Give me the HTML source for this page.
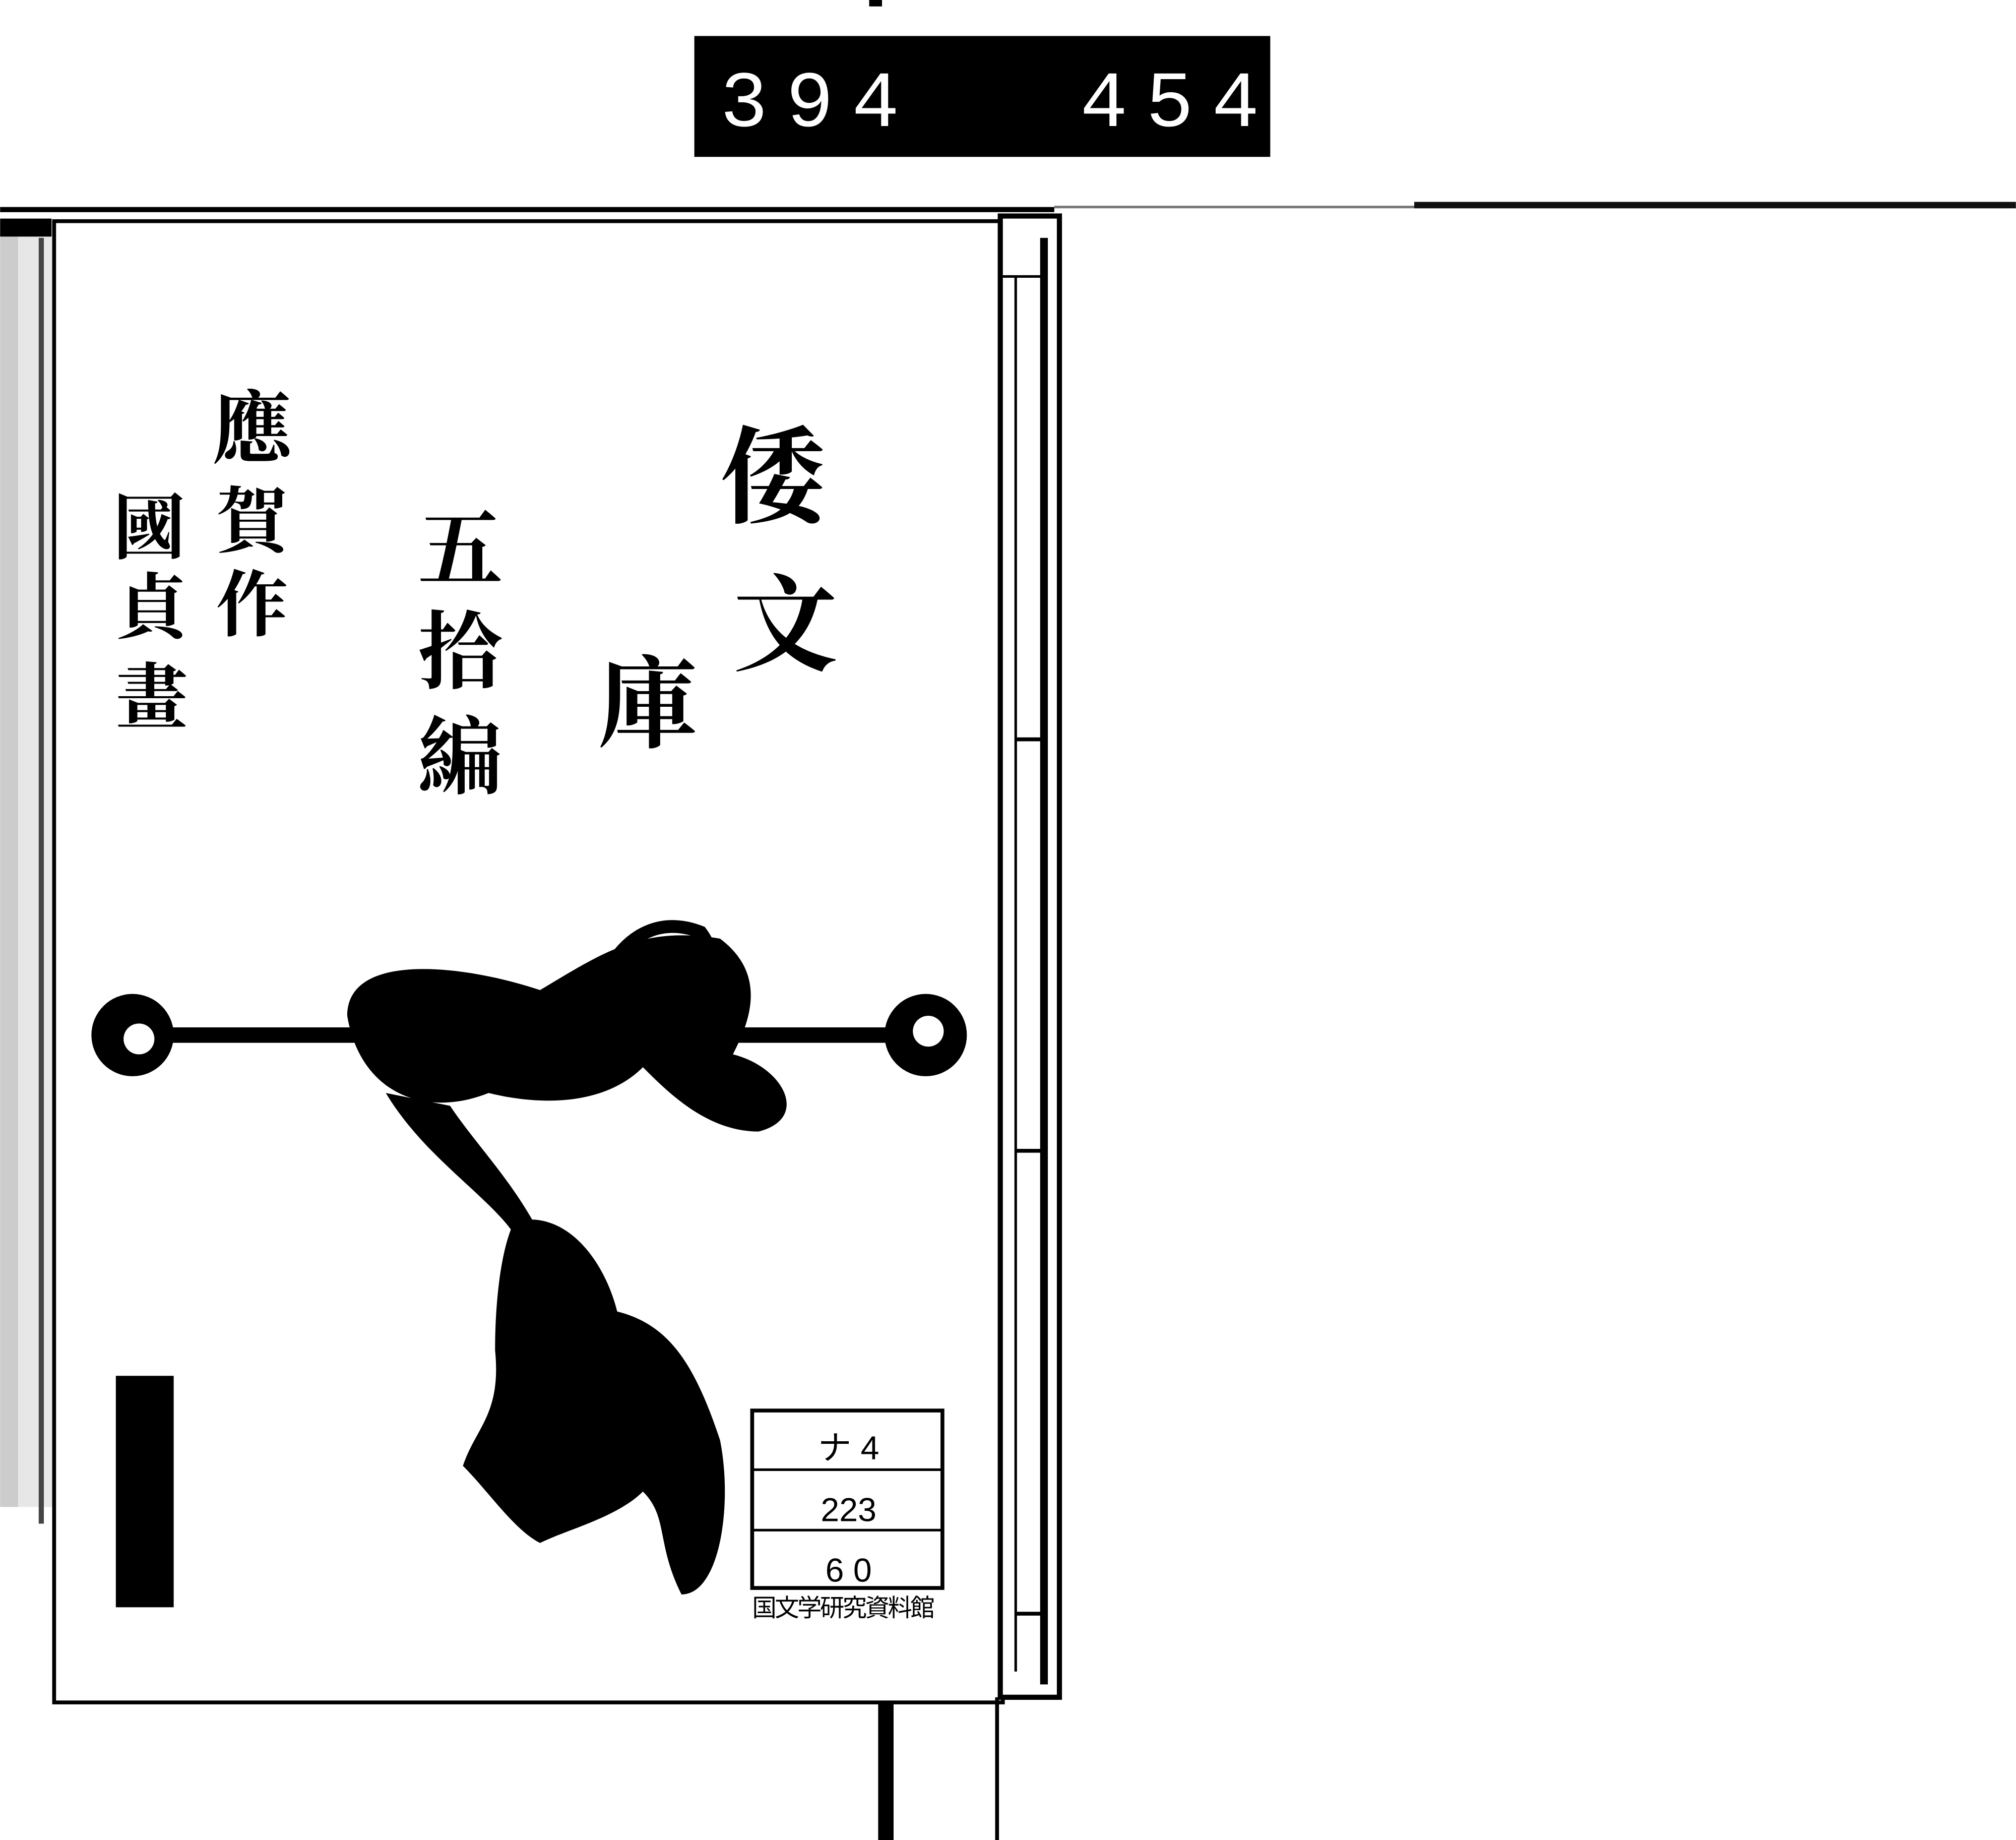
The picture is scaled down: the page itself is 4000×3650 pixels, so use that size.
<!DOCTYPE html>
<html><head><meta charset="utf-8"><style>
html,body{margin:0;padding:0;background:#fff;}
svg{display:block;}
.cjk{font-family:"Liberation Serif","Noto Serif CJK SC","Noto Sans CJK JP",serif;fill:#000;font-weight:bold;}
</style></head><body>
<svg width="4000" height="3650" viewBox="0 0 1568 1431" xmlns="http://www.w3.org/2000/svg">
<rect width="1568" height="1431" fill="#fff"/>
<rect x="540" y="28" width="448" height="94" fill="#000"/>
<text x="560" y="98" font-family="Liberation Mono,monospace" font-size="62" fill="#fff" letter-spacing="14">394</text>
<text x="840" y="98" font-family="Liberation Mono,monospace" font-size="62" fill="#fff" letter-spacing="14">454.</text>
<rect x="676" y="0" width="10" height="5" fill="#000"/>
<rect x="0" y="161" width="820" height="4" fill="#000"/>
<rect x="820" y="160" width="748" height="2" fill="#777"/>
<rect x="1100" y="157" width="468" height="5" fill="#111"/>
<rect x="0" y="172" width="42" height="1000" fill="#ddd" opacity="0.7"/>
<rect x="0" y="172" width="14" height="1000" fill="#bbb" opacity="0.6"/>
<rect x="30" y="185" width="4" height="1000" fill="#444"/>
<rect x="42" y="172" width="738" height="1152" fill="none" stroke="#000" stroke-width="3"/>
<rect x="0" y="170" width="40" height="14" fill="#000"/>
<rect x="778" y="168" width="46" height="1152" fill="#fff" stroke="#000" stroke-width="4"/>
<line x1="790" y1="215" x2="790" y2="1300" stroke="#000" stroke-width="2"/>
<line x1="812" y1="185" x2="812" y2="1310" stroke="#000" stroke-width="6"/>
<line x1="780" y1="215" x2="812" y2="215" stroke="#000" stroke-width="2"/>
<line x1="790" y1="575" x2="812" y2="575" stroke="#000" stroke-width="3"/>
<line x1="790" y1="895" x2="812" y2="895" stroke="#000" stroke-width="3"/>
<line x1="790" y1="1255" x2="812" y2="1255" stroke="#000" stroke-width="3"/>
<text class="cjk" x="560" y="400" font-size="82">倭</text>
<text class="cjk" x="570" y="515" font-size="82">文</text>
<text class="cjk" x="465" y="575" font-size="78">庫</text>
<text class="cjk" x="325" y="450" font-size="66">五</text>
<text class="cjk" x="325" y="530" font-size="66">拾</text>
<text class="cjk" x="325" y="612" font-size="66">編</text>
<text class="cjk" x="165" y="355" font-size="62">應</text>
<text class="cjk" x="168" y="425" font-size="56">賀</text>
<text class="cjk" x="168" y="490" font-size="56">作</text>
<text class="cjk" x="88" y="430" font-size="56">國</text>
<text class="cjk" x="90" y="492" font-size="56">貞</text>
<text class="cjk" x="90" y="562" font-size="56">畫</text>
<rect x="100" y="799" width="630" height="12" fill="#000"/>
<circle cx="103" cy="805" r="32" fill="#000"/><circle cx="108" cy="808" r="12" fill="#fff"/>
<circle cx="720" cy="805" r="32" fill="#000"/><circle cx="722" cy="802" r="12" fill="#fff"/>
<path d="M270,790 C270,740 360,750 420,770 C470,740 500,720 560,730 C600,760 580,800 570,820 C610,830 630,870 590,880 C550,880 520,850 500,830 C470,860 420,860 380,850 C330,870 280,850 270,790 Z" fill="#000"/>
<path d="M470,760 C490,720 520,715 545,725 C560,745 555,770 540,790" fill="none" stroke="#000" stroke-width="10"/>
<path d="M300,850 C330,900 380,930 400,960 L420,960 C400,920 370,890 350,860 Z" fill="#000"/>
<path d="M400,950 C440,940 470,980 480,1020 C520,1030 540,1060 560,1120 C570,1170 560,1240 530,1240 C510,1200 520,1180 500,1160 C480,1180 440,1190 420,1200 C400,1190 380,1160 360,1140 C370,1110 390,1100 385,1050 C385,1010 390,970 400,950 Z" fill="#000"/>
<rect x="90" y="1070" width="45" height="180" fill="#000"/>
<rect x="585" y="1097" width="148" height="138" fill="#fff" stroke="#000" stroke-width="3"/>
<line x1="585" y1="1143" x2="733" y2="1143" stroke="#000" stroke-width="2"/>
<line x1="585" y1="1190" x2="733" y2="1190" stroke="#000" stroke-width="2"/>
<text x="660" y="1135" font-family="Liberation Sans,'Noto Sans CJK JP',sans-serif" font-size="26" text-anchor="middle">ナ 4</text>
<text x="660" y="1183" font-family="Liberation Sans,sans-serif" font-size="26" text-anchor="middle">223</text>
<text x="660" y="1230" font-family="Liberation Sans,sans-serif" font-size="26" text-anchor="middle">6 0</text>
<text x="585" y="1257" font-family="Liberation Sans,'Noto Sans CJK JP',sans-serif" font-size="19" textLength="142">国文学研究資料館</text>
<rect x="683" y="1325" width="12" height="106" fill="#000"/>
<rect x="774" y="1320" width="3" height="111" fill="#000"/>
</svg>
</body></html>
